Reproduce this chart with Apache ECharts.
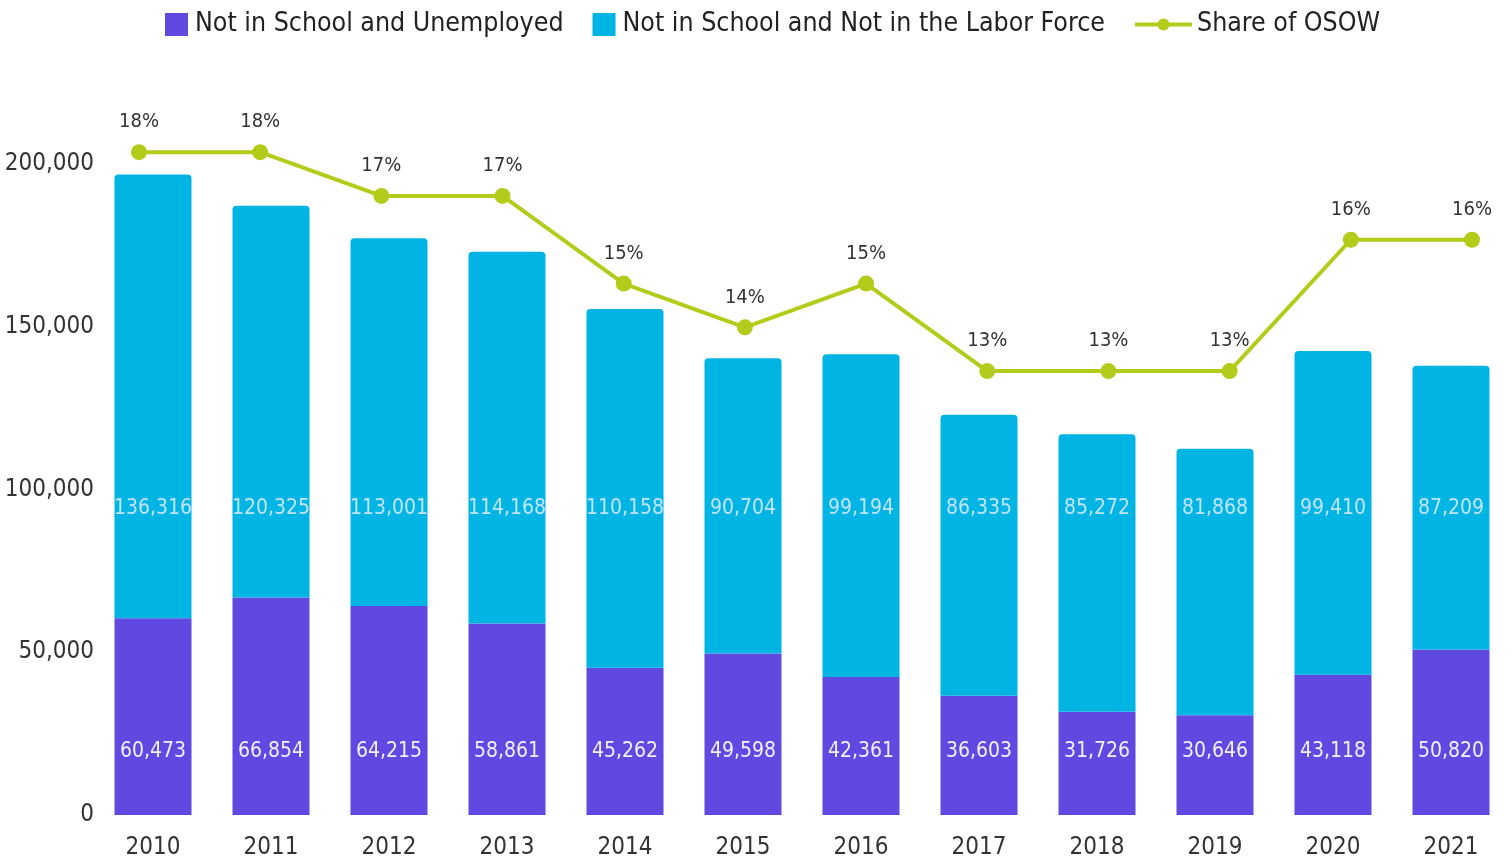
<!DOCTYPE html>
<html>
<head>
<meta charset="utf-8">
<script src="https://cdn.jsdelivr.net/npm/echarts@6/dist/echarts.min.js"></script>
<style>
  html, body { margin: 0; padding: 0; background: #fff; }
  #chart { width: 1512px; height: 860px; }
</style>
</head>
<body>
<div id="chart"></div>
<script>
const years = ["2010", "2011", "2012", "2013", "2014", "2015", "2016", "2017", "2018", "2019", "2020", "2021"];
const unemployed = [60473, 66854, 64215, 58861, 45262, 49598, 42361, 36603, 31726, 30646, 43118, 50820];
const notInLaborForce = [136316, 120325, 113001, 114168, 110158, 90704, 99194, 86335, 85272, 81868, 99410, 87209];
const osowShare = [18, 18, 17, 17, 15, 14, 15, 13, 13, 13, 16, 16];

const FONT = "'Liberation Sans Narrow', 'DejaVu Sans Condensed', Roboto, sans-serif";
const purple = "#6049E0";
const cyan = "#00B4E4";
const lime = "#B3CC1B";
const fmt = (v) => v.toLocaleString("en-US");

const chart = echarts.init(document.getElementById("chart"));

chart.setOption({
  animation: false,
  textStyle: { fontFamily: FONT },
  legend: [
    {
      data: ["Not in School and Unemployed", "Not in School and Not in the Labor Force"],
      left: 160,
      top: 6,
      itemWidth: 23,
      itemHeight: 23,
      itemGap: 29,
      icon: "rect",
      textStyle: { fontFamily: FONT, fontSize: 26.5, color: "#222", padding: [0, 0, 0, 2] },
    },
    {
      data: ["Share of OSOW"],
      left: 1128,
      top: 6,
      itemWidth: 57,
      itemHeight: 15,
      lineStyle: { width: 4 },
      textStyle: { fontFamily: FONT, fontSize: 26.5, color: "#222", padding: [0, 0, 0, 0] },
    },
  ],
  grid: [
    { left: 94, right: 2, top: 164, bottom: 44 },
    // the line runs on its own, slightly wider spacing
    { left: 139, right: 40, top: 164, bottom: 44 },
  ],
  xAxis: [
    {
      type: "category",
      data: years,
      axisLine: { show: false },
      axisTick: { show: false },
      axisLabel: { color: "#333", fontSize: 24, margin: 21, fontFamily: FONT },
    },
    {
      type: "category",
      gridIndex: 1,
      data: years,
      boundaryGap: false,
      show: false,
    },
  ],
  yAxis: [
    {
      type: "value",
      min: 0,
      max: 200000,
      interval: 50000,
      splitLine: { show: false },
      axisLine: { show: false },
      axisTick: { show: false },
      axisLabel: {
        color: "#333",
        fontSize: 24,
        margin: 0,
        fontFamily: FONT,
        formatter: (v) => fmt(v),
      },
    },
    {
      type: "value",
      gridIndex: 1,
      min: 2.84,
      max: 17.73,
      show: false,
    },
  ],
  series: [
    {
      name: "Not in School and Unemployed",
      type: "bar",
      stack: "total",
      barWidth: 77,
      data: unemployed,
      itemStyle: { color: purple },
      label: {
        show: true,
        position: "insideBottom",
        distance: 53,
        color: "#F2F0FF",
        fontSize: 21,
        fontFamily: FONT,
        formatter: (p) => fmt(p.value),
      },
    },
    {
      name: "Not in School and Not in the Labor Force",
      type: "bar",
      stack: "total",
      barWidth: 77,
      data: notInLaborForce,
      itemStyle: { color: cyan, borderRadius: [4, 4, 0, 0] },
    },
    {
      // carries the labels of the upper bars at a fixed height
      name: "labels",
      type: "scatter",
      data: notInLaborForce.map(() => 94200),
      symbolSize: 1,
      itemStyle: { color: "transparent" },
      silent: true,
      z: 5,
      label: {
        show: true,
        position: "inside",
        color: "#F2F0FF",
        fontSize: 21,
        fontFamily: FONT,
        formatter: (p) => fmt(notInLaborForce[p.dataIndex]),
      },
    },
    {
      name: "Share of OSOW",
      type: "line",
      xAxisIndex: 1,
      yAxisIndex: 1,
      data: osowShare,
      clip: false,
      symbol: "circle",
      symbolSize: 16,
      lineStyle: { color: lime, width: 4 },
      itemStyle: { color: lime },
      z: 10,
      label: {
        show: true,
        position: "top",
        distance: 12,
        color: "#333",
        fontSize: 20,
        fontFamily: FONT,
        formatter: (p) => p.value + "%",
      },
    },
  ],
});
</script>
</body>
</html>
